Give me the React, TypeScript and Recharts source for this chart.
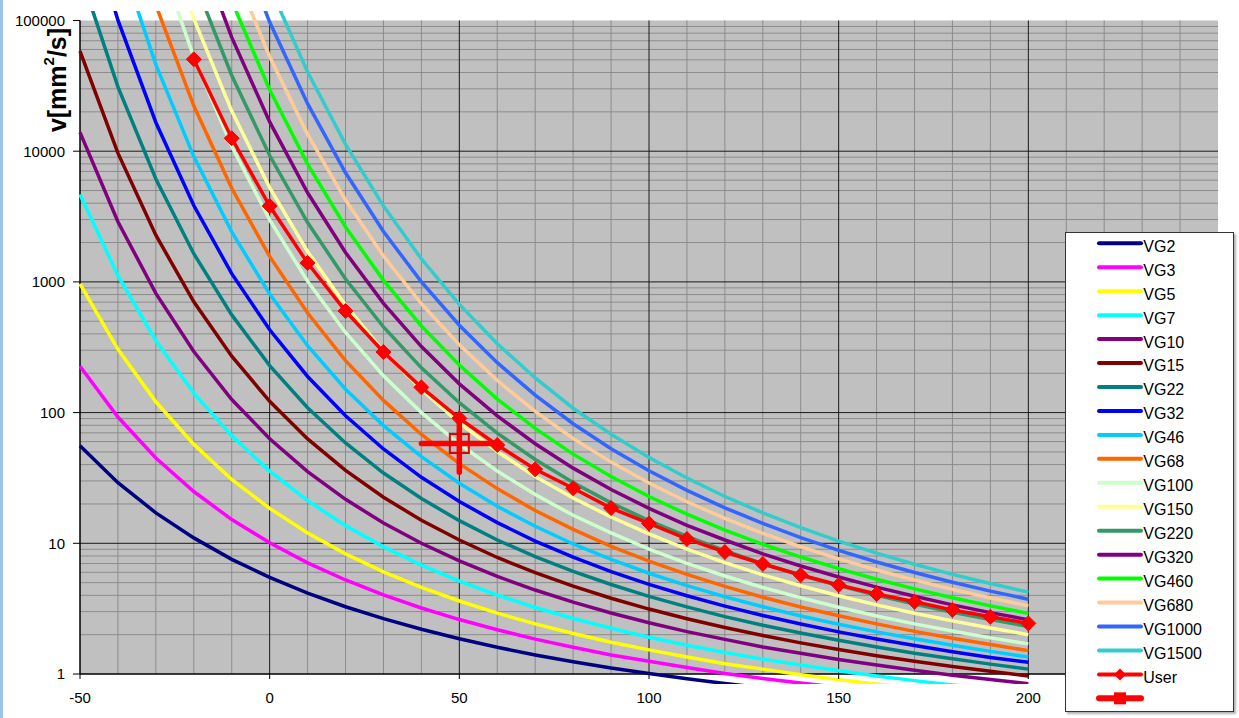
import React from "react";
import {
  ComposedChart,
  Line,
  XAxis,
  YAxis,
  ReferenceArea,
  ReferenceLine,
  ReferenceDot,
  Legend,
} from "recharts";

// temperature [°C]
const temps = [-50, -40, -30, -20, -10, 0, 10, 20, 30, 40, 50, 60, 70, 80, 90, 100, 110, 120, 130, 140, 150, 160, 170, 180, 190, 200];

// kinematic viscosity [mm2/s]
const vg2 = [55.7, 29.1, 17.1, 11.0, 7.54, 5.48, 4.16, 3.27, 2.65, 2.2, 1.86, 1.6, 1.4, 1.24, 1.11, 1.01, 0.919, 0.846, 0.784, null, null, null, null, null, null, null];
const vg3 = [226, 92.5, 44.9, 24.9, 15.2, 10.1, 7.09, 5.24, 4.03, 3.2, 2.61, 2.18, 1.85, 1.6, 1.4, 1.25, 1.12, 1.01, 0.925, 0.852, 0.79, null, null, null, null, null];
const vg5 = [966, 305, 121, 57.1, 30.8, 18.5, 12.0, 8.3, 6.05, 4.6, 3.62, 2.92, 2.42, 2.04, 1.75, 1.53, 1.35, 1.2, 1.09, 0.988, 0.906, 0.837, 0.778, null, null, null];
const vg7 = [4660, 1115, 355, 141, 66.4, 35.6, 21.2, 13.65, 9.39, 6.8, 5.14, 4.01, 3.23, 2.66, 2.24, 1.91, 1.66, 1.46, 1.3, 1.17, 1.06, 0.967, 0.89, 0.825, 0.769, null];
const vg10 = [13920, 2887, 816, 293, 126, 63.1, 35.4, 21.7, 14.3, 10, 7.33, 5.58, 4.39, 3.55, 2.93, 2.47, 2.11, 1.84, 1.61, 1.44, 1.29, 1.17, 1.07, 0.98, 0.907, 0.844];
const vg15 = [58240, 9657, 2276, 704, 270, 122, 62.9, 36.1, 22.5, 15, 10.6, 7.79, 5.96, 4.7, 3.8, 3.14, 2.65, 2.27, 1.97, 1.73, 1.54, 1.38, 1.25, 1.14, 1.05, 0.967];
const vg22 = [232700, 31030, 6133, 1643, 559, 229, 109, 58.6, 34.5, 22, 14.9, 10.6, 7.92, 6.1, 4.84, 3.93, 3.26, 2.75, 2.36, 2.06, 1.81, 1.61, 1.44, 1.31, 1.19, 1.09];
const vg32 = [941700, 100500, 16590, 3839, 1157, 430, 189, 94.5, 52.7, 32, 20.9, 14.4, 10.4, 7.83, 6.08, 4.85, 3.97, 3.31, 2.8, 2.41, 2.1, 1.85, 1.65, 1.48, 1.34, 1.23];
const vg46 = [null, 338500, 46000, 9097, 2413, 807, 325, 151, 79.5, 46, 28.8, 19.2, 13.5, 9.88, 7.52, 5.9, 4.74, 3.9, 3.27, 2.78, 2.4, 2.1, 1.86, 1.66, 1.49, 1.35];
const vg68 = [null, null, 131200, 22250, 5200, 1566, 578, 250, 124, 68, 40.7, 26.2, 17.8, 12.8, 9.49, 7.3, 5.78, 4.68, 3.87, 3.26, 2.79, 2.42, 2.12, 1.88, 1.68, 1.51];
const vg100 = [null, null, 356800, 52490, 10910, 2980, 1012, 410, 191, 100, 57.5, 35.7, 23.6, 16.4, 12.0, 9.03, 7.03, 5.62, 4.59, 3.83, 3.24, 2.78, 2.42, 2.13, 1.89, 1.7];
const vg150 = [null, null, 745000, 103300, 20260, 5267, 1707, 662, 297, 150, 83.6, 50.4, 32.5, 22.2, 15.9, 11.8, 9.02, 7.11, 5.74, 4.73, 3.97, 3.38, 2.92, 2.55, 2.25, 2.0];
const vg220 = [null, null, null, 206900, 37950, 9260, 2843, 1051, 452, 220, 119, 69.6, 43.8, 29.2, 20.4, 14.9, 11.3, 8.77, 6.99, 5.7, 4.74, 4.0, 3.43, 2.97, 2.61, 2.31];
const vg320 = [null, null, null, 444300, 74260, 16750, 4806, 1677, 686, 320, 166, 94.4, 57.8, 37.6, 25.8, 18.5, 13.7, 10.6, 8.31, 6.7, 5.52, 4.62, 3.93, 3.38, 2.95, 2.6];
const vg460 = [null, null, null, null, 141100, 29560, 7964, 2632, 1027, 460, 231, 127, 75.7, 48.1, 32.4, 22.8, 16.7, 12.6, 9.83, 7.85, 6.4, 5.31, 4.48, 3.83, 3.32, 2.91];
const vg680 = [null, null, null, null, 269100, 52840, 13450, 4227, 1579, 680, 330, 176, 102, 63.4, 41.8, 28.9, 20.8, 15.5, 11.9, 9.41, 7.6, 6.25, 5.23, 4.44, 3.82, 3.33];
const vg1000 = [null, null, null, null, 537900, 97330, 23110, 6842, 2427, 1000, 466, 241, 136, 82.2, 52.9, 35.9, 25.4, 18.7, 14.2, 11.05, 8.83, 7.2, 5.98, 5.04, 4.31, 3.73];
const vg1500 = [null, null, null, null, null, 181600, 40340, 11270, 3804, 1500, 673, 336, 184, 108, 68.3, 45.4, 31.6, 22.8, 17.1, 13.2, 10.4, 8.41, 6.92, 5.79, 4.92, 4.23];
const userValues = [null, null, null, 50500, 12560, 3808, 1396, 599, 291, 156, 90.4, 56.5, 36.8, 26.4, 18.6, 14.2, 10.8, 8.58, 6.95, 5.72, 4.8, 4.09, 3.57, 3.09, 2.74, 2.44];

// operating point with its ranges
const userPoint = { t: 50, v: 58 };
const userRangeT = [40, 60];
const userRangeV = [35, 95];

const seriesNames = ["VG2", "VG3", "VG5", "VG7", "VG10", "VG15", "VG22", "VG32", "VG46", "VG68", "VG100", "VG150", "VG220", "VG320", "VG460", "VG680", "VG1000", "VG1500"];
const seriesValues = [vg2, vg3, vg5, vg7, vg10, vg15, vg22, vg32, vg46, vg68, vg100, vg150, vg220, vg320, vg460, vg680, vg1000, vg1500];
const seriesColors = ["#000080", "#FF00FF", "#FFFF00", "#00FFFF", "#800080", "#800000", "#008080", "#0000FF", "#00CCFF", "#FF6600", "#CCFFCC", "#FFFF99", "#339966", "#800080", "#00FF00", "#FFCC99", "#3366FF", "#33CCCC"];

const xTicks = [-50, 0, 50, 100, 150, 200, 250];
const yTicks = [1, 10, 100, 1000, 10000, 100000];
const majorX = [0, 50, 100, 150, 200];
const minorX = [-40, -30, -20, -10, 10, 20, 30, 40, 60, 70, 80, 90, 110, 120, 130, 140, 160, 170, 180, 190, 210, 220, 230, 240];
const majorY = [10, 100, 1000, 10000];
const decades = [1, 10, 100, 1000, 10000];
const minorY = decades.flatMap((d) => [2, 3, 4, 5, 6, 7, 8, 9].map((k) => k * d));

const rows = temps.map((t, i) => {
  const row: Record<string, number | null> = { t, User: userValues[i] };
  seriesNames.forEach((n, j) => {
    row[n] = seriesValues[j][i];
  });
  return row;
});

const FONT = "'Liberation Sans', Arial, sans-serif";

const XTick = (props: any) => {
  const { x, y, payload } = props;
  return (
    <g>
      <line x1={x} x2={x} y1={y - 10} y2={y - 5} stroke="#000" />
      <text x={x} y={y + 18.5} textAnchor="middle" fontSize={15} fontFamily={FONT} fill="#000">
        {payload.value}
      </text>
    </g>
  );
};

const Diamond = (props: any) => {
  const { cx, cy, index } = props;
  if (cx == null || cy == null) return <g key={`d${index}`} />;
  const r = 7.5;
  return (
    <path
      key={`d${index}`}
      d={`M${cx},${cy - r}L${cx + r},${cy}L${cx},${cy + r}L${cx - r},${cy}Z`}
      fill="#FF0000"
      stroke="#FF0000"
    />
  );
};

function LegendBox() {
  const rowH = 23.95;
  const y0 = 10.3;
  const userY = y0 + 18 * rowH;
  const lastY = y0 + 19 * rowH;
  return (
    <div
      style={{
        width: 169,
        height: 480,
        background: "#fff",
        border: "1px solid #333",
        boxSizing: "border-box",
        boxShadow: "2px 2px 2px rgba(0,0,0,0.3)",
      }}
    >
      <svg width={167} height={478} style={{ display: "block" }}>
        {seriesNames.map((name, i) => {
          const cy = y0 + i * rowH;
          return (
            <g key={name}>
              <line x1={33} x2={75} y1={cy} y2={cy} stroke={seriesColors[i]} strokeWidth={4} strokeLinecap="round" />
              <text x={77.3} y={cy + 8.4} fontSize={16} fontFamily={FONT} fill="#000">
                {name}
              </text>
            </g>
          );
        })}
        <line x1={33} x2={75} y1={userY} y2={userY} stroke="#FF0000" strokeWidth={4} strokeLinecap="round" />
        <path d={`M54,${userY - 6}L60,${userY}L54,${userY + 6}L48,${userY}Z`} fill="#FF0000" />
        <text x={77.3} y={userY + 8.4} fontSize={16} fontFamily={FONT} fill="#000">
          User
        </text>
        <line x1={33} x2={75} y1={lastY} y2={lastY} stroke="#FF0000" strokeWidth={6} strokeLinecap="round" />
        <rect x={48} y={lastY - 6} width={12} height={12} fill="#FF0000" />
      </svg>
    </div>
  );
}

export default function App() {
  return (
    <div style={{ position: "absolute", left: 0, top: 0, width: 1239, height: 718, background: "#fff", fontFamily: FONT }}>
      <div style={{ position: "absolute", left: 0, top: 0, width: 3, height: 718, background: "#9DC3EC" }} />
      <ComposedChart width={1239} height={718} data={rows} margin={{ top: 11, right: 21, bottom: 0, left: 0 }}>
        <XAxis
          dataKey="t"
          type="number"
          domain={[-50, 250]}
          ticks={xTicks}
          interval={0}
          height={34}
          axisLine={false}
          tickLine={false}
          tickSize={0}
          tickMargin={0}
          tick={XTick}
        />
        <YAxis
          type="number"
          scale="log"
          domain={[0.8386, 118200]}
          allowDataOverflow
          ticks={yTicks}
          interval={0}
          width={80}
          axisLine={false}
          tickLine={{ stroke: "#000" }}
          tickSize={7}
          tickMargin={8}
          tick={{ fontSize: 15, fill: "#000", fontFamily: FONT }}
          label={{
            content: () => (
              <text
                x={57}
                y={80}
                transform="rotate(-90 57 80)"
                textAnchor="middle"
                dominantBaseline="central"
                fontSize={25}
                fontWeight="bold"
                fontFamily={FONT}
                fill="#000"
              >
                v[mm
                <tspan dy={-9} fontSize={15}>2</tspan>
                <tspan dy={9}>/s]</tspan>
              </text>
            ),
          }}
        />
        <ReferenceArea x1={-50} x2={250} y1={1} y2={100000} fill="#C0C0C0" fillOpacity={1} stroke="none" zIndex={-300} />
        {minorY.map((v) => (
          <ReferenceLine key={`my${v}`} y={v} stroke="#8C8C8C" strokeWidth={1} zIndex={-250} />
        ))}
        {minorX.map((t) => (
          <ReferenceLine key={`mx${t}`} segment={[{ x: t, y: 1 }, { x: t, y: 100000 }]} stroke="#8C8C8C" strokeWidth={1} zIndex={-250} />
        ))}
        {majorY.map((v) => (
          <ReferenceLine key={`My${v}`} y={v} stroke="#1A1A1A" strokeWidth={1} zIndex={-200} />
        ))}
        {majorX.map((t) => (
          <ReferenceLine key={`Mx${t}`} segment={[{ x: t, y: 1 }, { x: t, y: 100000 }]} stroke="#1A1A1A" strokeWidth={1} zIndex={-200} />
        ))}
        <ReferenceLine y={1} stroke="#000" strokeWidth={1.5} zIndex={-150} />
        <ReferenceLine segment={[{ x: -50, y: 1 }, { x: -50, y: 100000 }]} stroke="#000" strokeWidth={1.5} zIndex={-150} />
        {seriesNames.map((name, i) => (
          <Line
            key={name}
            type="linear"
            dataKey={name}
            stroke={seriesColors[i]}
            strokeWidth={3.5}
            dot={false}
            activeDot={false}
            isAnimationActive={false}
          />
        ))}
        <Line
          type="linear"
          dataKey="User"
          stroke="#FF0000"
          strokeWidth={3.5}
          dot={Diamond}
          activeDot={false}
          isAnimationActive={false}
        />
        <ReferenceLine
          segment={[{ x: userRangeT[0], y: userPoint.v }, { x: userRangeT[1], y: userPoint.v }]}
          stroke="#FF0000"
          strokeWidth={5.5}
          strokeLinecap="round"
          zIndex={900}
        />
        <ReferenceLine
          segment={[{ x: userPoint.t, y: userRangeV[0] }, { x: userPoint.t, y: userRangeV[1] }]}
          stroke="#FF0000"
          strokeWidth={5.5}
          strokeLinecap="round"
          zIndex={900}
        />
        <ReferenceDot
          x={userPoint.t}
          y={userPoint.v}
          zIndex={950}
          shape={(p: any) => (
            <rect x={p.cx - 9.5} y={p.cy - 9.5} width={19} height={19} fill="none" stroke="#E00000" strokeWidth={2} />
          )}
        />
        <Legend
          layout="vertical"
          align="center"
          verticalAlign="middle"
          wrapperStyle={{ left: 1065, top: 232, width: 169, height: 480 }}
          content={() => <LegendBox />}
        />
      </ComposedChart>
    </div>
  );
}
